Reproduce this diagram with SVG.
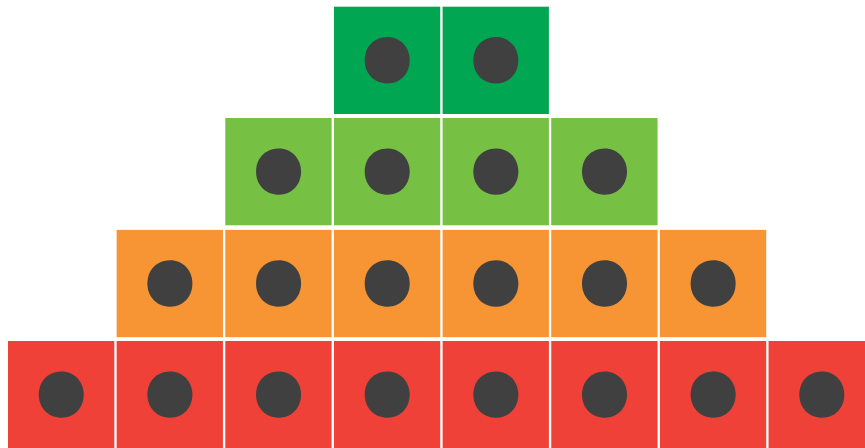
<svg xmlns="http://www.w3.org/2000/svg" xmlns:xlink="http://www.w3.org/1999/xlink" width="865" height="448" viewBox="0 0 865 448">
<style>
.sq{stroke:none}
.dg{fill:#00a651}
.lg{fill:#76c044}
.or{fill:#f79433}
.rd{fill:#ef4137}
.dot{fill:#404040}
</style>
<defs>
<path id="blob" d="M0,-23.2 C13,-23.4 22.8,-13 22.6,0.5 C22.4,13.5 13,23.6 -0.5,23.2 C-13.5,22.8 -22.6,13 -22.4,-0.5 C-22.2,-13.8 -12.8,-23 0,-23.2 Z"/>
</defs>
<rect width="865" height="448" fill="#ffffff"/>
<g id="row1">
<g id="n1-1"><rect class="sq dg" x="333.95" y="6.7" width="106.3" height="107.3"/><use xlink:href="#blob" class="dot" x="387.1" y="60.3"/></g>
<g id="n1-2"><rect class="sq dg" x="442.6" y="6.7" width="106.3" height="107.3"/><use xlink:href="#blob" class="dot" x="495.75" y="60.3"/></g>
</g>
<g id="row2">
<g id="n2-1"><rect class="sq lg" x="225.3" y="118" width="106.3" height="107.3"/><use xlink:href="#blob" class="dot" x="278.45" y="171.6"/></g>
<g id="n2-2"><rect class="sq lg" x="333.95" y="118" width="106.3" height="107.3"/><use xlink:href="#blob" class="dot" x="387.1" y="171.6"/></g>
<g id="n2-3"><rect class="sq lg" x="442.6" y="118" width="106.3" height="107.3"/><use xlink:href="#blob" class="dot" x="495.75" y="171.6"/></g>
<g id="n2-4"><rect class="sq lg" x="551.25" y="118" width="106.3" height="107.3"/><use xlink:href="#blob" class="dot" x="604.4" y="171.6"/></g>
</g>
<g id="row3">
<g id="n3-1"><rect class="sq or" x="116.65" y="229.9" width="106.3" height="107.3"/><use xlink:href="#blob" class="dot" x="169.8" y="283.5"/></g>
<g id="n3-2"><rect class="sq or" x="225.3" y="229.9" width="106.3" height="107.3"/><use xlink:href="#blob" class="dot" x="278.45" y="283.5"/></g>
<g id="n3-3"><rect class="sq or" x="333.95" y="229.9" width="106.3" height="107.3"/><use xlink:href="#blob" class="dot" x="387.1" y="283.5"/></g>
<g id="n3-4"><rect class="sq or" x="442.6" y="229.9" width="106.3" height="107.3"/><use xlink:href="#blob" class="dot" x="495.75" y="283.5"/></g>
<g id="n3-5"><rect class="sq or" x="551.25" y="229.9" width="106.3" height="107.3"/><use xlink:href="#blob" class="dot" x="604.4" y="283.5"/></g>
<g id="n3-6"><rect class="sq or" x="659.9" y="229.9" width="106.3" height="107.3"/><use xlink:href="#blob" class="dot" x="713.05" y="283.5"/></g>
</g>
<g id="row4">
<g id="n4-1"><rect class="sq rd" x="8" y="341" width="106.3" height="107.3"/><use xlink:href="#blob" class="dot" x="61.15" y="394.6"/></g>
<g id="n4-2"><rect class="sq rd" x="116.65" y="341" width="106.3" height="107.3"/><use xlink:href="#blob" class="dot" x="169.8" y="394.6"/></g>
<g id="n4-3"><rect class="sq rd" x="225.3" y="341" width="106.3" height="107.3"/><use xlink:href="#blob" class="dot" x="278.45" y="394.6"/></g>
<g id="n4-4"><rect class="sq rd" x="333.95" y="341" width="106.3" height="107.3"/><use xlink:href="#blob" class="dot" x="387.1" y="394.6"/></g>
<g id="n4-5"><rect class="sq rd" x="442.6" y="341" width="106.3" height="107.3"/><use xlink:href="#blob" class="dot" x="495.75" y="394.6"/></g>
<g id="n4-6"><rect class="sq rd" x="551.25" y="341" width="106.3" height="107.3"/><use xlink:href="#blob" class="dot" x="604.4" y="394.6"/></g>
<g id="n4-7"><rect class="sq rd" x="659.9" y="341" width="106.3" height="107.3"/><use xlink:href="#blob" class="dot" x="713.05" y="394.6"/></g>
<g id="n4-8"><rect class="sq rd" x="768.55" y="341" width="106.3" height="107.3"/><use xlink:href="#blob" class="dot" x="821.7" y="394.6"/></g>
</g>
<g id="connectors"/>
</svg>
